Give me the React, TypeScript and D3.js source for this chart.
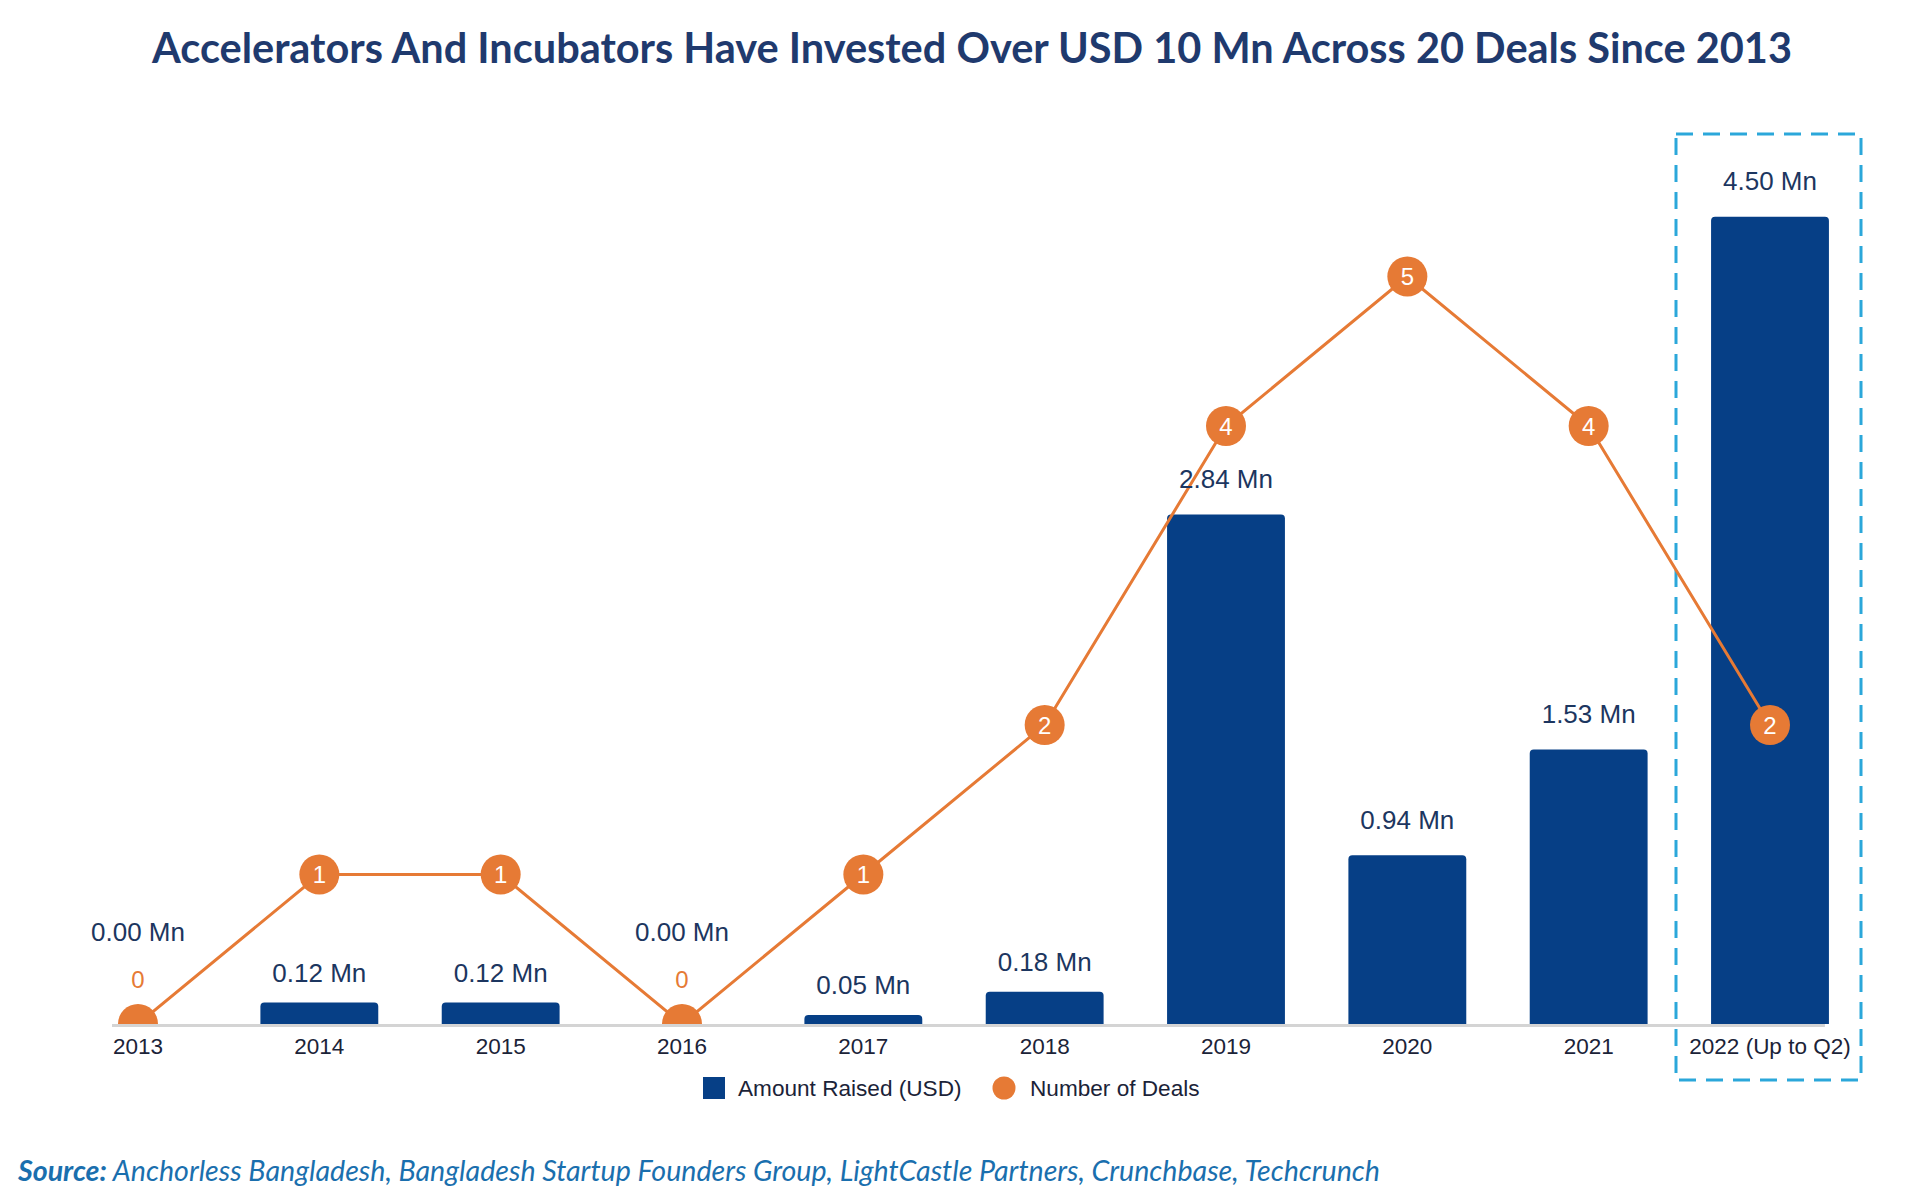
import React from "react";
import * as d3 from "d3";

const categories = ["2013", "2014", "2015", "2016", "2017", "2018", "2019", "2020", "2021", "2022 (Up to Q2)"];
const amountRaised = [0, 0.12, 0.12, 0, 0.05, 0.18, 2.84, 0.94, 1.53, 4.5];
const numberOfDeals = [0, 1, 1, 0, 1, 2, 4, 5, 4, 2];
const legendLabels = ["Amount Raised (USD)", "Number of Deals"];
const titleText = "Accelerators And Incubators Have Invested Over USD 10 Mn Across 20 Deals Since 2013";
const sourceLabel = "Source:";
const sourceText = " Anchorless Bangladesh, Bangladesh Startup Founders Group, LightCastle Partners, Crunchbase, Techcrunch";

const W = 1908;
const H = 1204;
const NAVY = "#063f86";
const ORANGE = "#e67a35";
const TEXT_DARK = "#1c3660";

export default function App() {
  const baseY = 1024;
  const topY = 127;
  const x = d3.scalePoint<string>().domain(categories).range([138, 1770]);
  const step = x.step();
  const bw = step * 0.65;
  const yAmt = d3.scaleLinear().domain([0, 5]).range([baseY, topY]);
  const yDeals = d3.scaleLinear().domain([0, 6]).range([baseY, topY]);

  const lineGen = d3
    .line<number>()
    .x((_, i) => x(categories[i]) as number)
    .y((d) => yDeals(d));

  const barPath = (cx: number, v: number) => {
    const x0 = cx - bw / 2;
    const y0 = yAmt(v);
    const h = baseY - y0;
    const r = Math.min(4, h / 2);
    return `M${x0},${baseY} L${x0},${y0 + r} Q${x0},${y0} ${x0 + r},${y0} L${x0 + bw - r},${y0} Q${x0 + bw},${y0} ${x0 + bw},${y0 + r} L${x0 + bw},${baseY} Z`;
  };

  const lastX = x(categories[categories.length - 1]) as number;
  const labelFont = "Liberation Sans, Arial";

  return (
    <svg width={W} height={H} style={{ display: "block", position: "absolute", left: 0, top: 0, background: "#fff" }}>
      <defs>
        <clipPath id="plotClip">
          <rect x={0} y={0} width={W} height={baseY} />
        </clipPath>
      </defs>
      <rect x={0} y={0} width={W} height={H} fill="#fff" />
      <text
        x={152}
        y={63}
        fontFamily="Lato"
        fontWeight={700}
        fontSize={42}
        fill="#1f3a6e"
        textLength={1640}
        lengthAdjust="spacingAndGlyphs"
      >
        {titleText}
      </text>

      {/* dashed highlight box */}
      <rect
        x={lastX - 94}
        y={134}
        width={185}
        height={946}
        fill="none"
        stroke="#2ba7da"
        strokeWidth={3}
        strokeDasharray="17 10"
      />

      {/* axis line */}
      <line x1={(x(categories[0]) as number) - 26} x2={lastX + bw / 2 - 4} y1={baseY + 1.5} y2={baseY + 1.5} stroke="#d4d4d4" strokeWidth={3} />

      {/* bars */}
      {amountRaised.map((v, i) =>
        v > 0 ? <path key={"b" + i} d={barPath(x(categories[i]) as number, v)} fill={NAVY} /> : null
      )}

      {/* line */}
      <g clipPath="url(#plotClip)">
        <path d={lineGen(numberOfDeals) || ""} fill="none" stroke={ORANGE} strokeWidth={3} />
        {numberOfDeals.map((d, i) => (
          <circle key={"c" + i} cx={x(categories[i]) as number} cy={yDeals(d)} r={20} fill={ORANGE} />
        ))}
      </g>
      {numberOfDeals.map((d, i) =>
        d > 0 ? (
          <text
            key={"dl" + i}
            x={x(categories[i]) as number}
            y={yDeals(d)}
            dy="0.36em"
            textAnchor="middle"
            fontFamily={labelFont}
            fontSize={24}
            fill="#fff"
          >
            {d}
          </text>
        ) : (
          <text
            key={"dl" + i}
            x={x(categories[i]) as number}
            y={yDeals(d) - 45}
            dy="0.36em"
            textAnchor="middle"
            fontFamily={labelFont}
            fontSize={24}
            fill={ORANGE}
          >
            {d}
          </text>
        )
      )}

      {/* bar labels */}
      {amountRaised.map((v, i) => (
        <text
          key={"bl" + i}
          x={x(categories[i]) as number}
          y={v > 0 ? yAmt(v) - (v < 0.5 ? 30 : 36) : baseY - 92}
          dy="0.36em"
          textAnchor="middle"
          fontFamily={labelFont}
          fontSize={26}
          fill={TEXT_DARK}
        >
          {v.toFixed(2) + " Mn"}
        </text>
      ))}

      {/* x tick labels */}
      {categories.map((c) => (
        <text
          key={"t" + c}
          x={x(c) as number}
          y={1046}
          dy="0.36em"
          textAnchor="middle"
          fontFamily={labelFont}
          fontSize={22.5}
          fill="#1b2338"
        >
          {c}
        </text>
      ))}

      {/* legend */}
      <rect x={703} y={1077} width={22} height={22} fill={NAVY} />
      <text x={738} y={1088} dy="0.36em" fontFamily={labelFont} fontSize={22.6} fill="#1b2338">
        {legendLabels[0]}
      </text>
      <circle cx={1004} cy={1088} r={11.5} fill={ORANGE} />
      <text x={1030} y={1088} dy="0.36em" fontFamily={labelFont} fontSize={22.6} fill="#1b2338">
        {legendLabels[1]}
      </text>

      {/* source */}
      <text
        x={18}
        y={1181}
        fontFamily="Lato"
        fontStyle="italic"
        fontSize={28}
        fill="#1a6fae"
        textLength={1362}
        lengthAdjust="spacingAndGlyphs"
      >
        <tspan fontWeight={700}>{sourceLabel}</tspan>
        <tspan>{sourceText}</tspan>
      </text>
    </svg>
  );
}
